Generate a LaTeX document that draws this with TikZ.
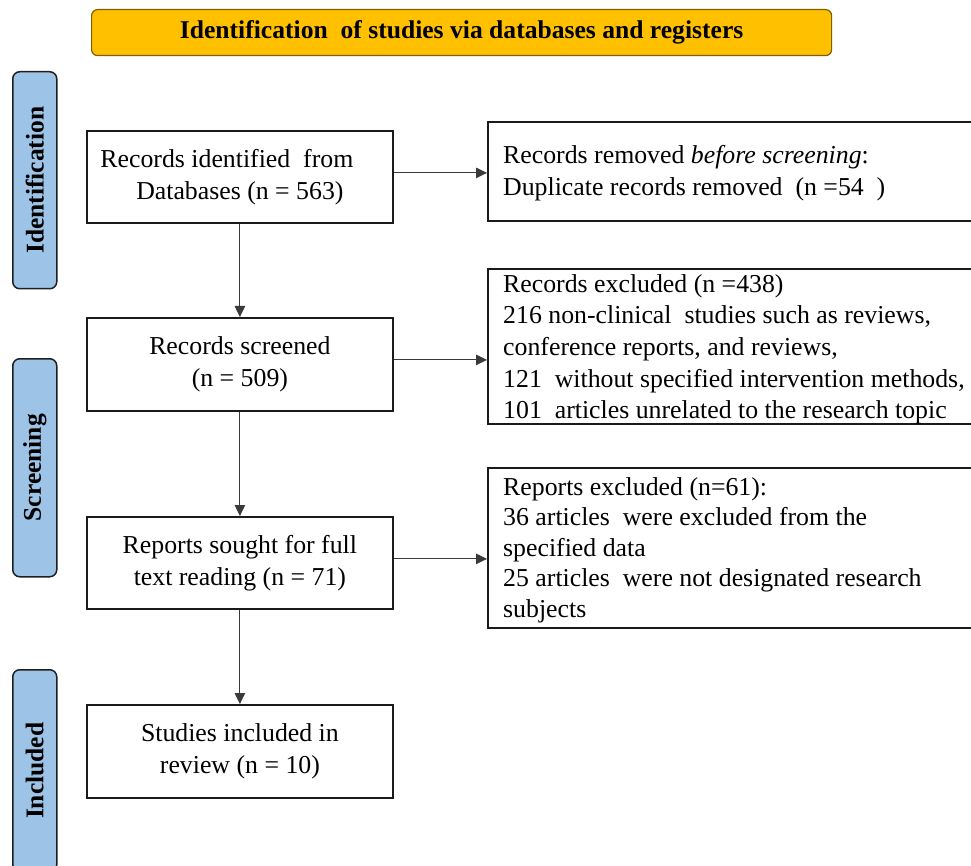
\documentclass[tikz,border=0pt]{standalone}
\usepackage{fontspec}
\setmainfont{Liberation Serif}
\usetikzlibrary{arrows.meta}
\definecolor{hdrfill}{HTML}{FFC000}
\definecolor{hdrline}{HTML}{7F6000}
\definecolor{sidefill}{HTML}{9DC3E6}
\definecolor{sideline}{HTML}{1F1F1F}
\definecolor{boxline}{HTML}{1A1A1A}
\definecolor{arrline}{HTML}{3A3A3A}
\begin{document}
\begin{tikzpicture}[x=1pt,y=-1pt,
  header/.style={draw=hdrline, fill=hdrfill, line width=1.2pt, rounded corners=6pt,
    anchor=north west, inner sep=0pt, minimum width=740pt, minimum height=46pt,
    font=\fontsize{25.6}{30}\selectfont\bfseries},
  sidebox/.style={draw=sideline, fill=sidefill, line width=1.5pt, rounded corners=7pt,
    anchor=north west, inner sep=0pt, minimum width=44pt},
  sidelabel/.style={rotate=90, inner sep=0pt, font=\fontsize{25.5}{30}\selectfont\bfseries},
  mainbox/.style={draw=boxline, line width=1.8pt, anchor=north west, minimum width=306pt,
    inner sep=0pt, align=center, font=\fontsize{25.8}{32}\selectfont},
  rbox/.style={draw=boxline, line width=1.8pt, anchor=north west, minimum width=540pt,
    inner sep=0pt},
  rtext/.style={anchor=north west, align=left, inner sep=0pt},
  arr/.style={draw=arrline, line width=1pt, -{Triangle[length=11pt,width=10.5pt]}}
]
\useasboundingbox (0,0) rectangle (971,866);
\clip (0,0) rectangle (971,866);

% header
\node[header] (hdr) at (91,9) {Identification\ \ of studies via databases and registers};

% side bars
\node[sidebox, minimum height=217pt] (sI) at (12,71) {};
\node[sidelabel] (lI) at (sI.center) {Identification};
\node[sidebox, minimum height=218pt] (sS) at (12,358) {};
\node[sidelabel] (lS) at (sS.center) {Screening};
\node[sidebox, minimum height=202pt] (sN) at (12,669) {};
\node[sidelabel] (lN) at (sN.center) {Included};

% main boxes
\node[mainbox, minimum height=92pt] (b1) at (86,130) {Records identified\ \ from\hspace*{26pt}\\Databases (n = 563)};
\node[mainbox, minimum height=93pt] (b2) at (86,317) {Records screened\\(n = 509)};
\node[mainbox, minimum height=92pt] (b3) at (86,516) {Reports sought for full\\text reading (n = 71)};
\node[mainbox, minimum height=93pt] (b4) at (86,704) {Studies included in\\review (n = 10)};

% right boxes
\node[rbox, minimum height=99pt] (r1) at (487,121) {};
\node[rtext, font=\fontsize{25.8}{32}\selectfont] (t1) at (503,140.6)
  {\strut Records removed \textit{before screening}:\\Duplicate\ records removed\ \ (n =54\ \ )};
\node[rbox, minimum height=155pt] (r2) at (487,268) {};
\node[rtext, font=\fontsize{25.8}{31.6}\selectfont] (t2) at (503,269.9)
  {\strut Records excluded (n =438)\\216 non-clinical\ \ studies such as reviews,\\conference reports, and reviews,\\121\ \ without specified intervention\ methods,\\101\ \ articles\ unrelated to the research topic};
\node[rbox, minimum height=160pt] (r3) at (487,467) {};
\node[rtext, font=\fontsize{25.8}{30.5}\selectfont] (t3) at (503,473.6)
  {\strut Reports excluded (n=61):\\36 articles\ \ were excluded from the\\specified\ data\\25 articles\ \ were not designated research\\subjects};

% connectors
\draw[arr] (b1) -- (b2);
\draw[arr] (b2) -- (b3);
\draw[arr] (b3) -- (b4);
\draw[arr] ([yshift=4pt]b1.east) -- ([yshift=4pt]b1.east -| r1.west);
\draw[arr] ([yshift=4.5pt]b2.east) -- ([yshift=4.5pt]b2.east -| r2.west);
\draw[arr] ([yshift=4pt]b3.east) -- ([yshift=4pt]b3.east -| r3.west);
\end{tikzpicture}
\end{document}
